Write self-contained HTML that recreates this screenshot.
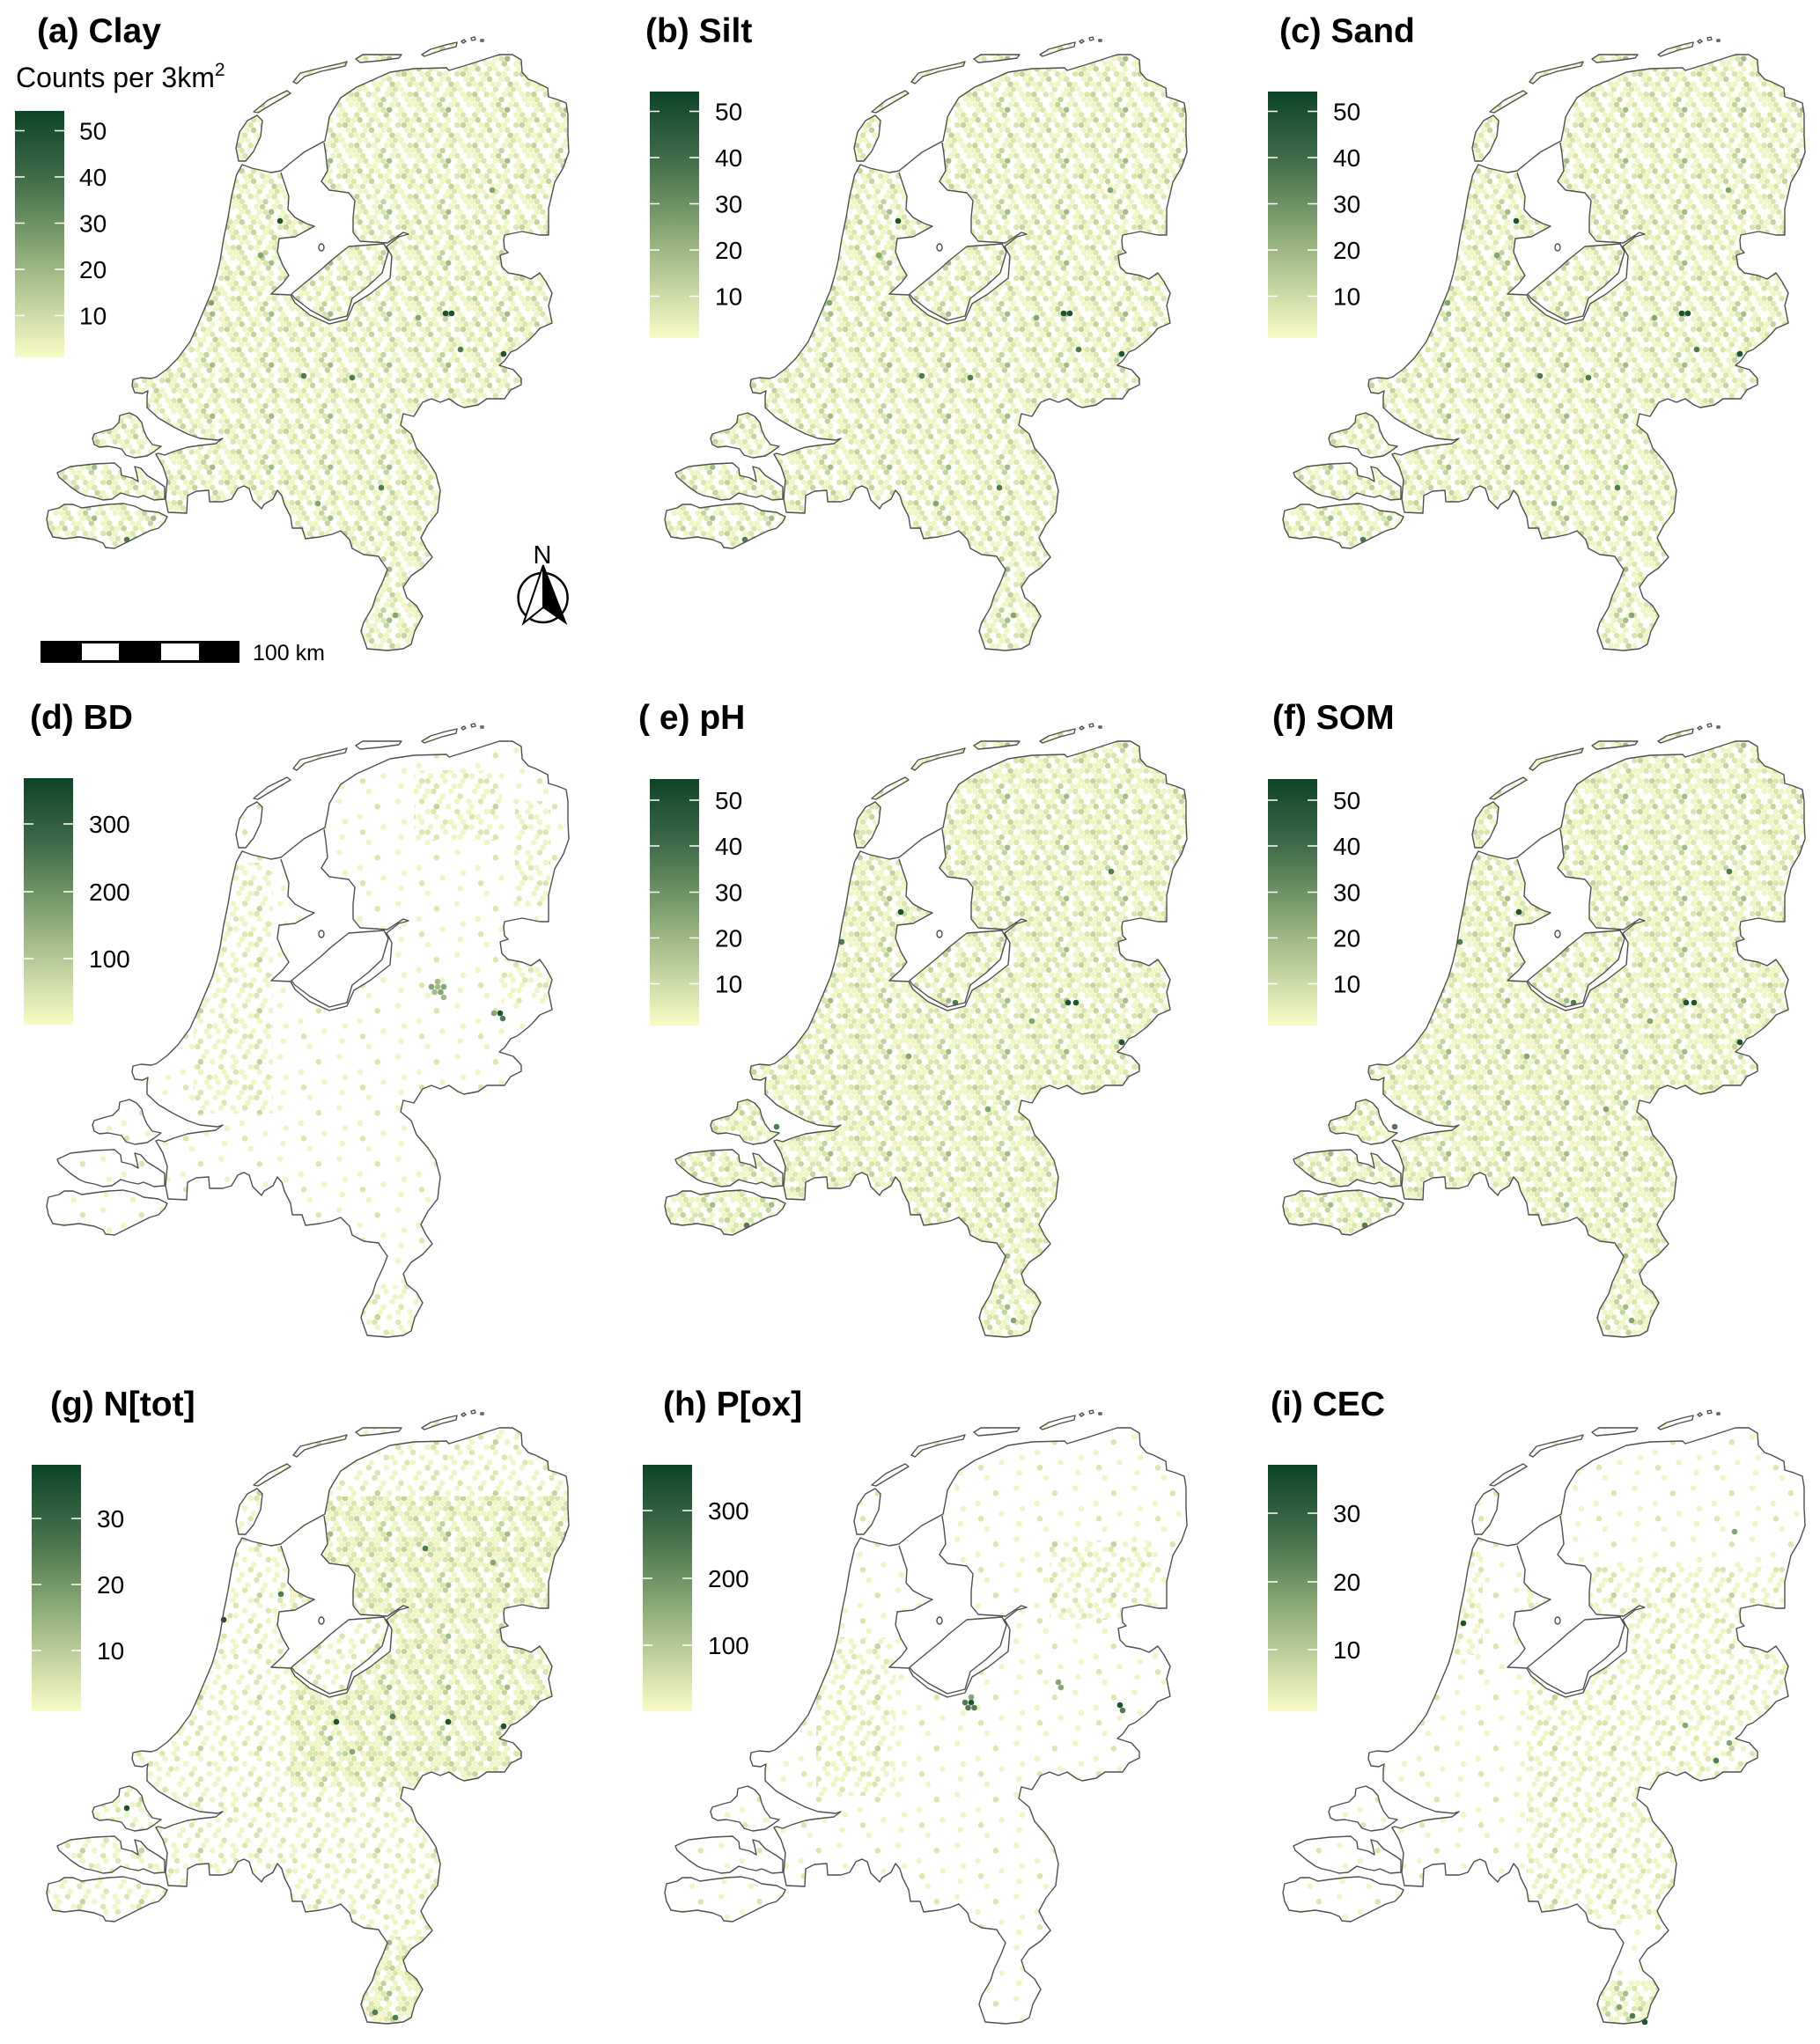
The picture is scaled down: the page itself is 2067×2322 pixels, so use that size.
<!DOCTYPE html>
<html><head><meta charset="utf-8"><style>
body{margin:0;background:#fff}
svg{display:block}
.c1{fill:#eff5c3}.c2{fill:#dae6ab}.c3{fill:#c2d39b}.c4{fill:#a3bb87}
.d1{fill:#1c5430}.d2{fill:#4e7c51}.d3{fill:#85a572}
text{font-family:"Liberation Sans",Arial,sans-serif;fill:#000}
.ti{font-weight:bold;font-size:39px}
.lb{font-size:28px}
</style></head><body>
<svg width="2067" height="2322" viewBox="0 0 2067 2322" xmlns="http://www.w3.org/2000/svg">
<defs>
<linearGradient id="gr" x1="0" y1="0" x2="0" y2="1">
<stop offset="0" stop-color="#0c4427"/><stop offset="0.26" stop-color="#3e6a47"/><stop offset="0.45" stop-color="#6b9062"/><stop offset="0.64" stop-color="#9cb783"/><stop offset="0.83" stop-color="#cedca7"/><stop offset="1" stop-color="#f8fbc4"/>
</linearGradient>
<pattern id="pd" width="67" height="58" patternUnits="userSpaceOnUse">
<circle class="c1" cx="3.35" cy="2.9" r="3.25"/><circle class="c2" cx="10.05" cy="2.9" r="3.25"/><circle class="c1" cx="23.45" cy="2.9" r="3.25"/><circle class="c3" cx="30.15" cy="2.9" r="3.25"/><circle class="c1" cx="43.55" cy="2.9" r="3.25"/><circle class="c2" cx="50.25" cy="2.9" r="3.25"/><circle class="c1" cx="63.65" cy="2.9" r="3.25"/>
<circle class="c1" cx="6.7" cy="8.7" r="3.25"/><circle class="c2" cx="13.4" cy="8.7" r="3.25"/><circle class="c1" cx="26.8" cy="8.7" r="3.25"/><circle class="c2" cx="33.5" cy="8.7" r="3.25"/><circle class="c4" cx="40.2" cy="8.7" r="3.25"/><circle class="c1" cx="53.6" cy="8.7" r="3.25"/>
<circle class="c2" cx="3.35" cy="14.5" r="3.25"/><circle class="c1" cx="16.75" cy="14.5" r="3.25"/><circle class="c1" cx="23.45" cy="14.5" r="3.25"/><circle class="c3" cx="36.85" cy="14.5" r="3.25"/><circle class="c1" cx="50.25" cy="14.5" r="3.25"/><circle class="c2" cx="56.95" cy="14.5" r="3.25"/>
<circle class="c1" cx="0" cy="20.3" r="3.25"/><circle class="c1" cx="67" cy="20.3" r="3.25"/><circle class="c3" cx="6.7" cy="20.3" r="3.25"/><circle class="c2" cx="20.1" cy="20.3" r="3.25"/><circle class="c1" cx="26.8" cy="20.3" r="3.25"/><circle class="c1" cx="40.2" cy="20.3" r="3.25"/><circle class="c1" cx="53.6" cy="20.3" r="3.25"/><circle class="c2" cx="60.3" cy="20.3" r="3.25"/>
<circle class="c1" cx="10.05" cy="26.1" r="3.25"/><circle class="c2" cx="16.75" cy="26.1" r="3.25"/><circle class="c2" cx="30.15" cy="26.1" r="3.25"/><circle class="c1" cx="36.85" cy="26.1" r="3.25"/><circle class="c2" cx="50.25" cy="26.1" r="3.25"/><circle class="c3" cx="56.95" cy="26.1" r="3.25"/><circle class="c1" cx="63.65" cy="26.1" r="3.25"/>
<circle class="c2" cx="0" cy="31.9" r="3.25"/><circle class="c2" cx="67" cy="31.9" r="3.25"/><circle class="c1" cx="13.4" cy="31.9" r="3.25"/><circle class="c3" cx="20.1" cy="31.9" r="3.25"/><circle class="c1" cx="33.5" cy="31.9" r="3.25"/><circle class="c2" cx="40.2" cy="31.9" r="3.25"/><circle class="c1" cx="60.3" cy="31.9" r="3.25"/>
<circle class="c1" cx="3.35" cy="37.7" r="3.25"/><circle class="c2" cx="10.05" cy="37.7" r="3.25"/><circle class="c1" cx="23.45" cy="37.7" r="3.25"/><circle class="c1" cx="30.15" cy="37.7" r="3.25"/><circle class="c3" cx="43.55" cy="37.7" r="3.25"/><circle class="c1" cx="50.25" cy="37.7" r="3.25"/><circle class="c2" cx="63.65" cy="37.7" r="3.25"/>
<circle class="c1" cx="6.7" cy="43.5" r="3.25"/><circle class="c1" cx="13.4" cy="43.5" r="3.25"/><circle class="c2" cx="26.8" cy="43.5" r="3.25"/><circle class="c1" cx="40.2" cy="43.5" r="3.25"/><circle class="c2" cx="46.9" cy="43.5" r="3.25"/><circle class="c1" cx="53.6" cy="43.5" r="3.25"/>
<circle class="c3" cx="3.35" cy="49.3" r="3.25"/><circle class="c2" cx="16.75" cy="49.3" r="3.25"/><circle class="c1" cx="23.45" cy="49.3" r="3.25"/><circle class="c1" cx="36.85" cy="49.3" r="3.25"/><circle class="c2" cx="43.55" cy="49.3" r="3.25"/><circle class="c1" cx="56.95" cy="49.3" r="3.25"/><circle class="c2" cx="63.65" cy="49.3" r="3.25"/>
<circle class="c1" cx="0" cy="55.1" r="3.25"/><circle class="c1" cx="67" cy="55.1" r="3.25"/><circle class="c2" cx="6.7" cy="55.1" r="3.25"/><circle class="c1" cx="26.8" cy="55.1" r="3.25"/><circle class="c3" cx="33.5" cy="55.1" r="3.25"/><circle class="c1" cx="46.9" cy="55.1" r="3.25"/><circle class="c1" cx="60.3" cy="55.1" r="3.25"/>
</pattern>
<pattern id="pm" width="67" height="58" patternUnits="userSpaceOnUse">
<circle class="c1" cx="3.35" cy="2.9" r="3.25"/><circle class="c2" cx="23.45" cy="2.9" r="3.25"/><circle class="c1" cx="43.55" cy="2.9" r="3.25"/>
<circle class="c1" cx="13.4" cy="8.7" r="3.25"/><circle class="c1" cx="33.5" cy="8.7" r="3.25"/><circle class="c2" cx="53.6" cy="8.7" r="3.25"/>
<circle class="c2" cx="10.05" cy="14.5" r="3.25"/><circle class="c1" cx="30.15" cy="14.5" r="3.25"/><circle class="c1" cx="50.25" cy="14.5" r="3.25"/><circle class="c1" cx="63.65" cy="14.5" r="3.25"/>
<circle class="c1" cx="0" cy="20.3" r="3.25"/><circle class="c1" cx="67" cy="20.3" r="3.25"/><circle class="c3" cx="26.8" cy="20.3" r="3.25"/><circle class="c1" cx="40.2" cy="20.3" r="3.25"/>
<circle class="c1" cx="16.75" cy="26.1" r="3.25"/><circle class="c2" cx="23.45" cy="26.1" r="3.25"/><circle class="c2" cx="50.25" cy="26.1" r="3.25"/><circle class="c1" cx="63.65" cy="26.1" r="3.25"/>
<circle class="c2" cx="0" cy="31.9" r="3.25"/><circle class="c2" cx="67" cy="31.9" r="3.25"/><circle class="c1" cx="26.8" cy="31.9" r="3.25"/><circle class="c1" cx="53.6" cy="31.9" r="3.25"/>
<circle class="c1" cx="10.05" cy="37.7" r="3.25"/><circle class="c2" cx="36.85" cy="37.7" r="3.25"/><circle class="c1" cx="43.55" cy="37.7" r="3.25"/>
<circle class="c1" cx="0" cy="43.5" r="3.25"/><circle class="c1" cx="67" cy="43.5" r="3.25"/><circle class="c1" cx="20.1" cy="43.5" r="3.25"/><circle class="c1" cx="46.9" cy="43.5" r="3.25"/><circle class="c2" cx="60.3" cy="43.5" r="3.25"/>
<circle class="c2" cx="16.75" cy="49.3" r="3.25"/><circle class="c1" cx="36.85" cy="49.3" r="3.25"/><circle class="c1" cx="56.95" cy="49.3" r="3.25"/>
<circle class="c1" cx="6.7" cy="55.1" r="3.25"/><circle class="c2" cx="26.8" cy="55.1" r="3.25"/><circle class="c1" cx="46.9" cy="55.1" r="3.25"/>
</pattern>
<pattern id="ps" width="67" height="58" patternUnits="userSpaceOnUse">
<circle class="c1" cx="16.75" cy="2.9" r="3.25"/><circle class="c1" cx="50.25" cy="14.5" r="3.25"/><circle class="c2" cx="26.8" cy="20.3" r="3.25"/><circle class="c1" cx="6.7" cy="31.9" r="3.25"/><circle class="c1" cx="56.95" cy="37.7" r="3.25"/><circle class="c1" cx="33.5" cy="43.5" r="3.25"/><circle class="c2" cx="10.05" cy="49.3" r="3.25"/><circle class="c1" cx="53.6" cy="55.1" r="3.25"/>
</pattern>
<clipPath id="cland">
<path d="M275,187 L268.5,199 L263,223 L259,247 L254,271 L250,296 L246,313 L241,330 L233,349 L225,368 L216,388 L202,407 L190,419 L178,428 L172,430 L160,429 L151,431 L150,438 L153,446 L162,447 L168,444 L167,450 L167,463 L180,475 L197,485 L213,493 L227,498 L247,500 L253,498 L245,504 L227,506 L213,508 L197,513 L187,517 L180,515 L177,516 L185,530 L190,545 L188,567 L191,582 L212,583 L213,563 L223,558 L237,557 L238,570 L253,570 L263,567 L270,555 L277,552 L283,555 L287,568 L297,578 L300,573 L310,567 L315,557 L320,563 L323,573 L330,587 L332,600 L343,600 L347,612 L363,610 L377,607 L387,603 L397,613 L400,623 L413,630 L430,632 L433,637 L440,647 L435,660 L427,677 L423,690 L413,707 L410,717 L417,737 L440,739 L458,737 L467,732 L471,717 L480,700 L473,688 L462,679 L458,667 L467,654 L480,645 L491,633 L484,623 L478,611 L486,596 L497,582 L500,557 L495,538 L486,524 L473,509 L467,493 L455,483 L458,470 L470,473 L480,457 L490,453 L500,457 L510,453 L520,460 L527,463 L543,460 L553,453 L573,453 L580,443 L592,437 L592,430 L583,420 L567,415 L573,410 L580,400 L587,397 L600,387 L607,380 L613,373 L627,367 L623,347 L627,333 L620,320 L613,310 L603,317 L593,313 L577,310 L570,303 L568,290 L577,287 L573,283 L572,273 L573,267 L593,263 L613,267 L623,267 L623,237 L627,220 L630,207 L640,190 L646,173 L645,153 L645,130 L643,117 L633,113 L623,110 L622,100 L608,93 L600,90 L593,82 L592,68 L582,62 L567,62 L533,73 L510,80 L507,77 L470,78 L443,82 L405,99 L387,111 L379,124 L374,133 L372,145 L369,160 L345,173 L319,194 L308,196 L286,191 Z"/>
<path d="M271,183 L268,168 L272,150 L281,137 L292,131 L298,137 L296,155 L288,172 L279,183 Z M288,127 L304,114 L326,103 L330,106 L308,119 L293,128 Z M333,93 L341,83 L361,78 L387,72 L394,70 L392,75 L365,81 L346,87 L337,95 Z M404,67 L412,62 L436,62 L456,62 L453,66 L431,69 L409,71 Z M479,62 L489,56 L506,51 L519,48 L518,53 L502,57 L482,64 Z M105,498 L107,493 L120,489 L128,487 L135,480 L136,472 L147,469 L155,473 L161,480 L163,488 L167,497 L173,505 L183,507 L175,513 L167,518 L153,520 L143,517 L138,510 L123,507 L113,508 L107,505 Z M65,537 L80,530 L107,527 L130,526 L137,532 L138,540 L150,543 L157,547 L155,537 L153,530 L160,532 L167,540 L180,548 L187,553 L187,567 L175,568 L163,563 L157,565 L147,563 L137,560 L127,567 L117,568 L107,565 L97,563 L90,560 L80,553 L73,547 L67,542 Z M55,580 L67,577 L73,573 L83,573 L93,577 L107,575 L123,573 L140,572 L153,575 L163,580 L180,582 L190,587 L187,593 L180,600 L170,603 L160,608 L150,613 L140,618 L130,623 L120,622 L117,617 L107,613 L90,610 L73,612 L60,610 L55,600 L53,590 Z"/>
</clipPath>
<clipPath id="cfl"><path d="M376,296 L396,280 L436,277 L441,286 L434,310 L418,325 L400,339 L394,359 L374,364 L352,352 L335,339 L331,334 L348,320 L365,306 Z"/></clipPath>
<path id="wf" fill="#fff" d="M319,196 L323,208 L328,223 L327,238 L335,247 L348,254 L357,257 L335,269 L317,271 L315,286 L321,301 L328,313 L321,322 L308,334 L330,335 L335,344 L352,358 L374,368 L394,363 L402,345 L420,334 L443,316 L445,291 L439,280 L453,269 L464,266 L458,264 L440,276 L409,274 L401,264 L401,247 L403,228 L396,219 L374,216 L365,206 L372,194 L370,175 L368,162 L345,175 Z"/>
<g id="ol" fill="none" stroke="#4f4f4f" stroke-width="1.4" stroke-linejoin="round">
<path d="M275,187 L268.5,199 L263,223 L259,247 L254,271 L250,296 L246,313 L241,330 L233,349 L225,368 L216,388 L202,407 L190,419 L178,428 L172,430 L160,429 L151,431 L150,438 L153,446 L162,447 L168,444 L167,450 L167,463 L180,475 L197,485 L213,493 L227,498 L247,500 L253,498 L245,504 L227,506 L213,508 L197,513 L187,517 L180,515 L177,516 L185,530 L190,545 L188,567 L191,582 L212,583 L213,563 L223,558 L237,557 L238,570 L253,570 L263,567 L270,555 L277,552 L283,555 L287,568 L297,578 L300,573 L310,567 L315,557 L320,563 L323,573 L330,587 L332,600 L343,600 L347,612 L363,610 L377,607 L387,603 L397,613 L400,623 L413,630 L430,632 L433,637 L440,647 L435,660 L427,677 L423,690 L413,707 L410,717 L417,737 L440,739 L458,737 L467,732 L471,717 L480,700 L473,688 L462,679 L458,667 L467,654 L480,645 L491,633 L484,623 L478,611 L486,596 L497,582 L500,557 L495,538 L486,524 L473,509 L467,493 L455,483 L458,470 L470,473 L480,457 L490,453 L500,457 L510,453 L520,460 L527,463 L543,460 L553,453 L573,453 L580,443 L592,437 L592,430 L583,420 L567,415 L573,410 L580,400 L587,397 L600,387 L607,380 L613,373 L627,367 L623,347 L627,333 L620,320 L613,310 L603,317 L593,313 L577,310 L570,303 L568,290 L577,287 L573,283 L572,273 L573,267 L593,263 L613,267 L623,267 L623,237 L627,220 L630,207 L640,190 L646,173 L645,153 L645,130 L643,117 L633,113 L623,110 L622,100 L608,93 L600,90 L593,82 L592,68 L582,62 L567,62 L533,73 L510,80 L507,77 L470,78 L443,82 L405,99 L387,111 L379,124 L374,133 L372,145 L369,160 L345,173 L319,194 L308,196 L286,191 Z"/>
<path d="M271,183 L268,168 L272,150 L281,137 L292,131 L298,137 L296,155 L288,172 L279,183 Z M288,127 L304,114 L326,103 L330,106 L308,119 L293,128 Z M333,93 L341,83 L361,78 L387,72 L394,70 L392,75 L365,81 L346,87 L337,95 Z M404,67 L412,62 L436,62 L456,62 L453,66 L431,69 L409,71 Z M479,62 L489,56 L506,51 L519,48 L518,53 L502,57 L482,64 Z M524,47 l3,-2 l2,2 l-3,2 Z M535,43 l4,-1 l1,3 l-4,1 Z M546,45 l3,0 l0,2 l-3,0 Z M105,498 L107,493 L120,489 L128,487 L135,480 L136,472 L147,469 L155,473 L161,480 L163,488 L167,497 L173,505 L183,507 L175,513 L167,518 L153,520 L143,517 L138,510 L123,507 L113,508 L107,505 Z M65,537 L80,530 L107,527 L130,526 L137,532 L138,540 L150,543 L157,547 L155,537 L153,530 L160,532 L167,540 L180,548 L187,553 L187,567 L175,568 L163,563 L157,565 L147,563 L137,560 L127,567 L117,568 L107,565 L97,563 L90,560 L80,553 L73,547 L67,542 Z M55,580 L67,577 L73,573 L83,573 L93,577 L107,575 L123,573 L140,572 L153,575 L163,580 L180,582 L190,587 L187,593 L180,600 L170,603 L160,608 L150,613 L140,618 L130,623 L120,622 L117,617 L107,613 L90,610 L73,612 L60,610 L55,600 L53,590 Z"/>
<path d="M319,196 L323,208 L328,223 L327,238 L335,247 L348,254 L357,257 L335,269 L317,271 L315,286 L321,301 L328,313 L321,322 L308,334 L330,335 L335,344 L352,358 L374,368 L394,363 L402,345 L420,334 L443,316 L445,291 L439,280 L453,269 L464,266 L458,264 L440,276 L409,274 L401,264 L401,247 L403,228 L396,219 L374,216 L365,206 L372,194 L370,175 L368,162"/>
<path d="M376,296 L396,280 L436,277 L441,286 L434,310 L418,325 L400,339 L394,359 L374,364 L352,352 L335,339 L331,334 L348,320 L365,306 Z"/>
<ellipse cx="365" cy="281" rx="3" ry="4"/>
</g>
<g id="LA">
<rect x="40" y="40" width="620" height="710" fill="url(#pd)" clip-path="url(#cland)"/>
<use href="#wf"/>
<rect x="320" y="270" width="130" height="100" fill="url(#pd)" clip-path="url(#cfl)"/>
</g>
<g id="LE">
<rect x="40" y="40" width="620" height="710" fill="url(#pd)" clip-path="url(#cland)"/>
<rect x="40" y="40" width="620" height="710" fill="url(#ps)" clip-path="url(#cland)"/>
<use href="#wf"/>
<rect x="320" y="270" width="130" height="100" fill="url(#pd)" clip-path="url(#cfl)"/>
</g>
<g id="DA">
<circle class="d1" cx="318" cy="251" r="3.3"/><circle class="d1" cx="506" cy="356" r="3.3"/><circle class="d1" cx="513" cy="356" r="3.3"/><circle class="d2" cx="523" cy="397" r="3.3"/><circle class="d1" cx="572" cy="402" r="3.3"/><circle class="d2" cx="345" cy="427" r="3.3"/><circle class="d2" cx="400" cy="429" r="3.3"/><circle class="d2" cx="433" cy="554" r="3.3"/><circle class="d3" cx="361" cy="572" r="3.3"/><circle class="d2" cx="144" cy="613" r="3.3"/><circle class="d3" cx="449" cy="699" r="3.3"/><circle class="d3" cx="559" cy="216" r="3.3"/><circle class="d3" cx="475" cy="361" r="3.3"/><circle class="d3" cx="296" cy="290" r="3.3"/><circle class="d3" cx="240" cy="344" r="3.3"/>
</g>
<g id="DE">
<circle class="d1" cx="321" cy="256" r="3.3"/><circle class="d1" cx="511" cy="359" r="3.3"/><circle class="d1" cx="520" cy="359" r="3.3"/><circle class="d2" cx="383" cy="359" r="3.3"/><circle class="d1" cx="572" cy="404" r="3.3"/><circle class="d2" cx="254" cy="290" r="3.3"/><circle class="d2" cx="560" cy="210" r="3.3"/><circle class="d2" cx="146" cy="612" r="3.3"/><circle class="d2" cx="180" cy="500" r="3.3"/><circle class="d3" cx="449" cy="720" r="3.3"/><circle class="d3" cx="420" cy="480" r="3.3"/><circle class="d3" cx="470" cy="380" r="3.3"/><circle class="d3" cx="330" cy="420" r="3.3"/>
</g>
</defs>

<!-- Row 1 -->
<g>
<use href="#LA"/><use href="#DA"/><use href="#ol"/>
</g>
<g transform="translate(702,0)">
<use href="#LA"/><use href="#DA"/><use href="#ol"/>
</g>
<g transform="translate(1404,0)">
<use href="#LA"/><use href="#DA"/><use href="#ol"/>
</g>

<!-- Row 2 -->
<g transform="translate(0,780)">
<rect x="40" y="40" width="620" height="710" fill="url(#ps)" clip-path="url(#cland)"/>
<rect x="220" y="200" width="90" height="285" fill="url(#pm)" clip-path="url(#cland)"/>
<rect x="470" y="95" width="100" height="80" fill="url(#pm)" clip-path="url(#cland)"/>
<rect x="585" y="130" width="40" height="120" fill="url(#pm)" clip-path="url(#cland)"/>
<rect x="570" y="300" width="55" height="60" fill="url(#pm)" clip-path="url(#cland)"/>
<rect x="410" y="680" width="75" height="65" fill="url(#pm)" clip-path="url(#cland)"/>
<use href="#wf"/>
<circle class="d3" cx="490" cy="341" r="3.3"/><circle class="c4" cx="497" cy="341" r="3.3"/><circle class="d3" cx="504" cy="341" r="3.3"/><circle class="c4" cx="493.5" cy="347" r="3.3"/><circle class="d3" cx="500.5" cy="347" r="3.3"/><circle class="c4" cx="497" cy="335" r="3.3"/><circle class="c4" cx="504" cy="353" r="3.3"/>
<circle class="d1" cx="568" cy="371" r="3.3"/><circle class="d3" cx="561" cy="371" r="3.3"/><circle class="d2" cx="571" cy="377" r="3.3"/>
<use href="#ol"/>
</g>
<g transform="translate(702,780)">
<use href="#LE"/><use href="#DE"/><use href="#ol"/>
</g>
<g transform="translate(1404,780)">
<use href="#LE"/><use href="#DE"/><use href="#ol"/>
</g>

<!-- Row 3 -->
<g transform="translate(0,1560)">
<rect x="40" y="40" width="620" height="710" fill="url(#pm)" clip-path="url(#cland)"/>
<rect x="330" y="140" width="330" height="330" fill="url(#pd)" clip-path="url(#cland)"/>
<rect x="400" y="640" width="90" height="100" fill="url(#pd)" clip-path="url(#cland)"/>
<use href="#wf"/>
<rect x="320" y="270" width="130" height="100" fill="url(#pm)" clip-path="url(#cfl)"/>
<circle class="d1" cx="254" cy="280" r="3.3"/><circle class="d2" cx="319" cy="251" r="3.3"/><circle class="d1" cx="509" cy="396" r="3.3"/><circle class="d1" cx="572" cy="401" r="3.3"/><circle class="d1" cx="382" cy="396" r="3.3"/><circle class="d2" cx="446" cy="390" r="3.3"/><circle class="d1" cx="144" cy="494" r="3.3"/><circle class="d2" cx="483" cy="199" r="3.3"/><circle class="d2" cx="449" cy="732" r="3.3"/><circle class="d2" cx="426" cy="726" r="3.3"/><circle class="d3" cx="560" cy="215" r="3.3"/><circle class="d3" cx="400" cy="430" r="3.3"/>
<use href="#ol"/>
</g>
<g transform="translate(702,1560)">
<rect x="40" y="40" width="620" height="710" fill="url(#ps)" clip-path="url(#cland)"/>
<rect x="225" y="300" width="90" height="180" fill="url(#pm)" clip-path="url(#cland)"/>
<rect x="490" y="190" width="120" height="90" fill="url(#pm)" clip-path="url(#cland)"/>
<use href="#wf"/>
<circle class="d2" cx="394" cy="374" r="3.3"/><circle class="d1" cx="401" cy="374" r="3.3"/><circle class="d2" cx="397.5" cy="380" r="3.3"/><circle class="d2" cx="404.5" cy="380" r="3.3"/><circle class="d3" cx="401" cy="368" r="3.3"/>
<circle class="d3" cx="500" cy="351" r="3.3"/><circle class="d3" cx="503" cy="357" r="3.3"/><circle class="d1" cx="570" cy="377" r="3.3"/><circle class="d2" cx="573" cy="383" r="3.3"/>
<use href="#ol"/>
</g>
<g transform="translate(1404,1560)">
<rect x="40" y="40" width="620" height="710" fill="url(#ps)" clip-path="url(#cland)"/>
<rect x="330" y="220" width="310" height="400" fill="url(#pm)" clip-path="url(#cland)"/>
<rect x="240" y="180" width="40" height="140" fill="url(#pm)" clip-path="url(#cland)"/>
<rect x="410" y="690" width="75" height="55" fill="url(#pd)" clip-path="url(#cland)"/>
<use href="#wf"/>
<circle class="d1" cx="258" cy="284" r="3.3"/><circle class="d2" cx="545" cy="440" r="3.3"/><circle class="d3" cx="566" cy="180" r="3.3"/><circle class="d1" cx="464" cy="737" r="3.3"/><circle class="d2" cx="450" cy="730" r="3.3"/><circle class="d3" cx="435" cy="720" r="3.3"/><circle class="d3" cx="560" cy="420" r="3.3"/><circle class="d3" cx="510" cy="400" r="3.3"/>
<use href="#ol"/>
</g>

<!-- Titles -->
<text class="ti" x="42" y="48">(a) Clay</text>
<text class="ti" x="733" y="48">(b) Silt</text>
<text class="ti" x="1453" y="48">(c) Sand</text>
<text class="ti" x="34" y="828">(d) BD</text>
<text class="ti" x="725" y="828">( e) pH</text>
<text class="ti" x="1445" y="828">(f) SOM</text>
<text class="ti" x="57" y="1608">(g) N[tot]</text>
<text class="ti" x="753" y="1608">(h) P[ox]</text>
<text class="ti" x="1443" y="1608">(i) CEC</text>

<text x="18" y="99" font-size="32">Counts per 3km<tspan font-size="21" dy="-13">2</tspan></text>

<!-- Colorbars -->
<g stroke="#fff" stroke-width="1.6">
<rect x="17" y="126" width="56" height="280" fill="url(#gr)" stroke="none"/>
<path d="M17,148.5h11M62,148.5h11M17,201h11M62,201h11M17,253.5h11M62,253.5h11M17,306h11M62,306h11M17,358.5h11M62,358.5h11"/>
<rect x="738" y="104" width="56" height="280" fill="url(#gr)" stroke="none"/>
<path d="M738,126.5h11M783,126.5h11M738,179h11M783,179h11M738,231.5h11M783,231.5h11M738,284h11M783,284h11M738,336.5h11M783,336.5h11"/>
<rect x="1440" y="104" width="56" height="280" fill="url(#gr)" stroke="none"/>
<path d="M1440,126.5h11M1485,126.5h11M1440,179h11M1485,179h11M1440,231.5h11M1485,231.5h11M1440,284h11M1485,284h11M1440,336.5h11M1485,336.5h11"/>
<rect x="27" y="884" width="56" height="280" fill="url(#gr)" stroke="none"/>
<path d="M27,936h11M72,936h11M27,1013h11M72,1013h11M27,1089h11M72,1089h11"/>
<rect x="738" y="885" width="56" height="280" fill="url(#gr)" stroke="none"/>
<path d="M738,909h11M783,909h11M738,961h11M783,961h11M738,1013.5h11M783,1013.5h11M738,1065.5h11M783,1065.5h11M738,1117.5h11M783,1117.5h11"/>
<rect x="1440" y="885" width="56" height="280" fill="url(#gr)" stroke="none"/>
<path d="M1440,909h11M1485,909h11M1440,961h11M1485,961h11M1440,1013.5h11M1485,1013.5h11M1440,1065.5h11M1485,1065.5h11M1440,1117.5h11M1485,1117.5h11"/>
<rect x="36" y="1664" width="56" height="280" fill="url(#gr)" stroke="none"/>
<path d="M36,1725h11M81,1725h11M36,1800h11M81,1800h11M36,1875h11M81,1875h11"/>
<rect x="730" y="1664" width="56" height="280" fill="url(#gr)" stroke="none"/>
<path d="M730,1716h11M775,1716h11M730,1793h11M775,1793h11M730,1869h11M775,1869h11"/>
<rect x="1440" y="1664" width="56" height="280" fill="url(#gr)" stroke="none"/>
<path d="M1440,1719h11M1485,1719h11M1440,1797h11M1485,1797h11M1440,1874h11M1485,1874h11"/>
</g>

<!-- Colorbar labels -->
<g>
<text class="lb" x="90" y="158.5">50</text><text class="lb" x="90" y="211">40</text><text class="lb" x="90" y="263.5">30</text><text class="lb" x="90" y="316">20</text><text class="lb" x="90" y="368.5">10</text>
<text class="lb" x="812" y="136.5">50</text><text class="lb" x="812" y="189">40</text><text class="lb" x="812" y="241.5">30</text><text class="lb" x="812" y="294">20</text><text class="lb" x="812" y="346.5">10</text>
<text class="lb" x="1514" y="136.5">50</text><text class="lb" x="1514" y="189">40</text><text class="lb" x="1514" y="241.5">30</text><text class="lb" x="1514" y="294">20</text><text class="lb" x="1514" y="346.5">10</text>
<text class="lb" x="101" y="946">300</text><text class="lb" x="101" y="1023">200</text><text class="lb" x="101" y="1099">100</text>
<text class="lb" x="812" y="919">50</text><text class="lb" x="812" y="971">40</text><text class="lb" x="812" y="1023.5">30</text><text class="lb" x="812" y="1075.5">20</text><text class="lb" x="812" y="1127.5">10</text>
<text class="lb" x="1514" y="919">50</text><text class="lb" x="1514" y="971">40</text><text class="lb" x="1514" y="1023.5">30</text><text class="lb" x="1514" y="1075.5">20</text><text class="lb" x="1514" y="1127.5">10</text>
<text class="lb" x="110" y="1735">30</text><text class="lb" x="110" y="1810">20</text><text class="lb" x="110" y="1885">10</text>
<text class="lb" x="804" y="1726">300</text><text class="lb" x="804" y="1803">200</text><text class="lb" x="804" y="1879">100</text>
<text class="lb" x="1514" y="1729">30</text><text class="lb" x="1514" y="1807">20</text><text class="lb" x="1514" y="1884">10</text>
</g>

<!-- North arrow -->
<text x="616" y="640" font-size="29" text-anchor="middle">N</text>
<circle cx="616.6" cy="679" r="28" fill="none" stroke="#000" stroke-width="2.5"/>
<polygon points="617,642 594.5,708 617,690" fill="#fff" stroke="#000" stroke-width="2"/>
<polygon points="617,642 617,690 642.7,708" fill="#000" stroke="#000" stroke-width="1.5"/>

<!-- Scale bar -->
<rect x="46" y="728" width="226" height="25" fill="#000"/>
<rect x="93" y="731" width="42" height="19" fill="#fff"/>
<rect x="183" y="731" width="43" height="19" fill="#fff"/>
<text x="287" y="750" font-size="25">100 km</text>
</svg>
</body></html>
